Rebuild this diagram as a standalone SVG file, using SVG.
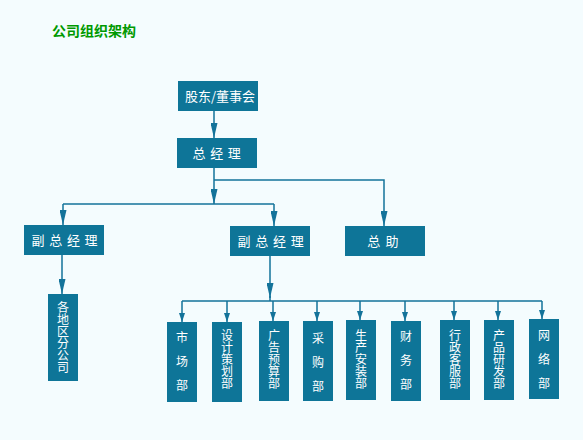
<svg xmlns="http://www.w3.org/2000/svg" width="583" height="440" viewBox="0 0 583 440">
<style>
.bg{fill:#F4FCFE}
.box{fill:#0E7598}
.t{fill:#FFFFFF;font-family:"Noto Sans CJK SC","Liberation Sans",sans-serif;font-size:13px;text-anchor:middle}
.v{fill:#FFFFFF;font-family:"Noto Sans CJK SC","Liberation Sans",sans-serif;font-size:12px;writing-mode:vertical-rl;text-orientation:upright}
.w{letter-spacing:12px}
.title{fill:#009900;font-family:"Noto Sans CJK SC","Liberation Sans",sans-serif;font-size:14px;font-weight:bold}
.ln{fill:none;stroke:#13739A;stroke-width:1.5}
.big{marker-end:url(#ab)}
.sm{marker-end:url(#as)}
</style>
<defs>
<marker id="ab" viewBox="0 0 15 7" refX="15" refY="3.5" markerWidth="15" markerHeight="7" markerUnits="userSpaceOnUse" orient="auto">
<path d="M0,0 L15,3.5 L0,7 z" fill="#13739A"/>
</marker>
<marker id="as" viewBox="0 0 9 6" refX="9" refY="3" markerWidth="9" markerHeight="6" markerUnits="userSpaceOnUse" orient="auto">
<path d="M0,0 L9,3 L0,6 z" fill="#13739A"/>
</marker>
</defs>
<rect class="bg" x="0" y="0" width="583" height="440"/>
<text class="title" x="52" y="36">公司组织架构</text>
<g id="connectors">
<path class="ln big" d="M214,111 V138"/>
<path class="ln big" d="M214,168 V204"/>
<path class="ln big" d="M214,180 H384 V226"/>
<path class="ln" d="M63,204 H274"/>
<path class="ln big" d="M63,204 V225"/>
<path class="ln big" d="M274,204 V226"/>
<path class="ln big" d="M62,255 V294"/>
<path class="ln big" d="M270,256 V298"/>
<path class="ln" d="M270,296 V301 M182,301 H542"/>
<path class="ln sm" d="M182,301 V322"/>
<path class="ln sm" d="M227,301 V322"/>
<path class="ln sm" d="M273,301 V321"/>
<path class="ln sm" d="M317,301 V321"/>
<path class="ln sm" d="M360,301 V320"/>
<path class="ln sm" d="M405,301 V321"/>
<path class="ln sm" d="M454,301 V320"/>
<path class="ln sm" d="M498,301 V320"/>
<path class="ln sm" d="M542,301 V319"/>
</g>
<g id="n-board"><rect class="box" x="178" y="81" width="80" height="30"/><text class="t" x="220" y="100.5">股东/董事会</text></g>
<g id="n-gm"><rect class="box" x="177" y="138" width="80" height="30"/><text class="t" x="219" y="157.5" letter-spacing="4.7">总经理</text></g>
<g id="n-vp1"><rect class="box" x="24" y="225" width="80" height="30"/><text class="t" x="66.9" y="244.5" letter-spacing="4.7">副总经理</text></g>
<g id="n-vp2"><rect class="box" x="230" y="226" width="80" height="30"/><text class="t" x="273" y="245.5" letter-spacing="4.7">副总经理</text></g>
<g id="n-asst"><rect class="box" x="345" y="226" width="80" height="30"/><text class="t" x="385.5" y="245.5" letter-spacing="5.3">总助</text></g>
<g id="n-branch"><rect class="box" x="48" y="294" width="30" height="87"/><text class="v" x="63" y="301.5">各地区分公司</text></g>
<g id="n-market"><rect class="box" x="167" y="322" width="30" height="80"/><text class="v w" x="182" y="331">市场部</text></g>
<g id="n-design"><rect class="box" x="212" y="322" width="30" height="80"/><text class="v" x="227" y="329.5">设计策划部</text></g>
<g id="n-ad"><rect class="box" x="259" y="321" width="30" height="80"/><text class="v" x="274" y="329">广告预算部</text></g>
<g id="n-purchase"><rect class="box" x="303" y="321" width="30" height="80"/><text class="v w" x="318" y="332">采购部</text></g>
<g id="n-prod"><rect class="box" x="346" y="320" width="30" height="80"/><text class="v" x="361" y="329">生产安装部</text></g>
<g id="n-fin"><rect class="box" x="391" y="321" width="30" height="80"/><text class="v w" x="406" y="330">财务部</text></g>
<g id="n-admin"><rect class="box" x="440" y="320" width="30" height="80"/><text class="v" x="455" y="329">行政客服部</text></g>
<g id="n-rd"><rect class="box" x="484" y="320" width="30" height="80"/><text class="v" x="499" y="329">产品研发部</text></g>
<g id="n-net"><rect class="box" x="529" y="319" width="30" height="80"/><text class="v w" x="544" y="329.5">网络部</text></g>
</svg>
